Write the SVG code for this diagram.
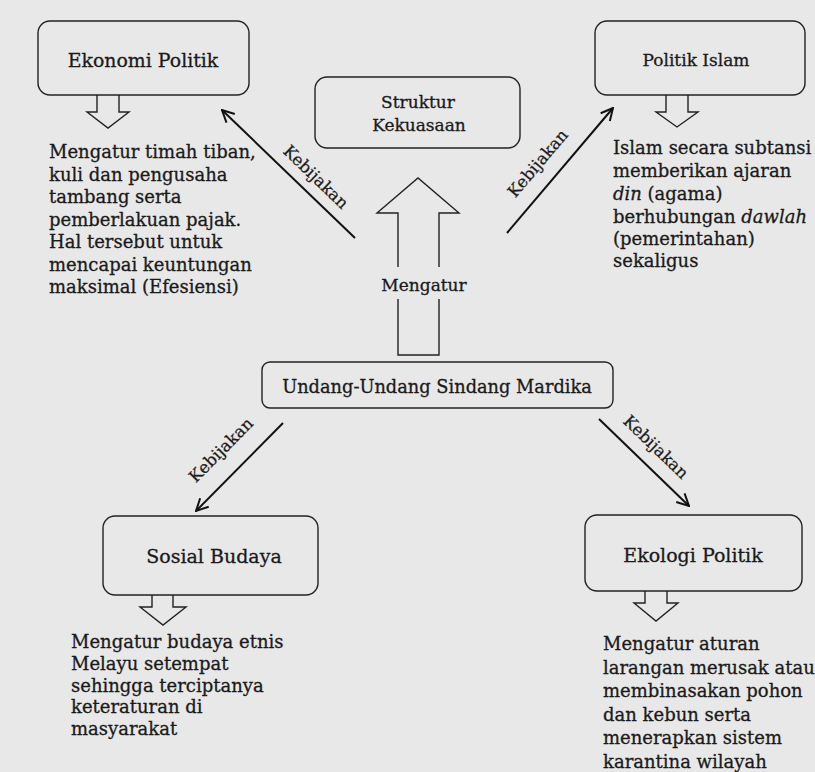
<svg xmlns="http://www.w3.org/2000/svg" width="815" height="772" viewBox="0 0 815 772">
<style>
.box{fill:none;stroke:#222;stroke-width:1.4}
.hol{fill:none;stroke:#222;stroke-width:1.4;stroke-linejoin:miter}
.t{font-family:"DejaVu Serif","Liberation Serif",serif;font-size:18px;fill:#1a1a1a;stroke:#1a1a1a;stroke-width:0.3}
.ttl{font-family:"DejaVu Serif","Liberation Serif",serif;font-size:17px;fill:#1a1a1a;stroke:#1a1a1a;stroke-width:0.3;text-anchor:middle}
.lbl{font-family:"DejaVu Serif","Liberation Serif",serif;font-size:16.5px;fill:#1a1a1a;stroke:#1a1a1a;stroke-width:0.25;text-anchor:middle}
.con{stroke:#111;stroke-width:2;fill:none;marker-end:url(#ah)}
</style>
<defs>
<marker id="ah" viewBox="0 0 14 14" refX="13" refY="7" markerWidth="7" markerHeight="7" orient="auto" markerUnits="strokeWidth">
<path d="M1,1 L13,7 L1,13" fill="none" stroke="#111" stroke-width="2"/>
</marker>
</defs>
<rect x="0" y="0" width="815" height="772" fill="#e8e8e8"/>

<g id="ekonomi-politik">
<rect class="box" x="38" y="21" width="211" height="74" rx="12"/>
<text class="ttl" x="143" y="67" style="font-size:18.9px">Ekonomi Politik</text>
<polyline class="hol" points="97,95 97,112 87,112 108,128 129,112 119,112 119,95"/>
<text class="t" x="49" y="158">Mengatur timah tiban,</text>
<text class="t" x="49" y="180.5">kuli dan pengusaha</text>
<text class="t" x="49" y="203">tambang serta</text>
<text class="t" x="49" y="225.5">pemberlakuan pajak.</text>
<text class="t" x="49" y="248">Hal tersebut untuk</text>
<text class="t" x="49" y="270.5">mencapai keuntungan</text>
<text class="t" x="49" y="293">maksimal (Efesiensi)</text>
</g>

<g id="struktur-kekuasaan">
<rect class="box" x="315" y="77" width="205" height="71" rx="12"/>
<text class="ttl" x="418" y="108">Struktur</text>
<text class="ttl" x="419" y="131">Kekuasaan</text>
</g>

<g id="politik-islam">
<rect class="box" x="595" y="21" width="210" height="74" rx="12"/>
<text class="ttl" x="696" y="66">Politik Islam</text>
<polyline class="hol" points="666,95 666,112 656,112 677,127 698,112 688,112 688,95"/>
<text class="t" x="613" y="154">Islam secara subtansi</text>
<text class="t" x="613" y="177">memberikan ajaran</text>
<text class="t" x="613" y="200"><tspan font-style="italic">din</tspan> (agama)</text>
<text class="t" x="613" y="223">berhubungan  <tspan font-style="italic">dawlah</tspan></text>
<text class="t" x="613" y="245">(pemerintahan)</text>
<text class="t" x="613" y="267">sekaligus</text>
</g>

<g id="undang-undang">
<rect class="box" x="262" y="362" width="351" height="46" rx="8"/>
<text class="ttl" x="437" y="393" style="font-size:17.8px">Undang-Undang Sindang Mardika</text>
</g>

<g id="sosial-budaya">
<rect class="box" x="103" y="516" width="215" height="79" rx="12"/>
<text class="ttl" x="214" y="563" style="font-size:19px">Sosial Budaya</text>
<polyline class="hol" points="152,595 152,607 140,607 163,625 186,607 173,607 173,595"/>
<text class="t" x="71" y="648">Mengatur budaya etnis</text>
<text class="t" x="71" y="670">Melayu setempat</text>
<text class="t" x="71" y="691.5">sehingga terciptanya</text>
<text class="t" x="71" y="713">keteraturan di</text>
<text class="t" x="71" y="735">masyarakat</text>
</g>

<g id="ekologi-politik">
<rect class="box" x="585" y="515" width="217" height="76" rx="12"/>
<text class="ttl" x="693" y="562" style="font-size:19px">Ekologi Politik</text>
<polyline class="hol" points="645,591 645,603 634,603 656,621 678,603 667,603 667,591"/>
<text class="t" x="603" y="650">Mengatur aturan</text>
<text class="t" x="603" y="673.5">larangan merusak atau</text>
<text class="t" x="603" y="697">membinasakan pohon</text>
<text class="t" x="603" y="720.5">dan kebun serta</text>
<text class="t" x="603" y="744">menerapkan sistem</text>
<text class="t" x="603" y="767.5">karantina wilayah</text>
</g>

<g id="connectors">
<polygon class="hol" points="398,355 398,213 377,213 418,178 459,213 439,213 439,355"/>
<rect x="378" y="267" width="94" height="32" fill="#e8e8e8"/>
<text class="ttl" x="424" y="291">Mengatur</text>
<line class="con" x1="355" y1="238" x2="222" y2="110"/>
<text class="lbl" transform="translate(312,181) rotate(44)">Kebijakan</text>
<line class="con" x1="507" y1="233" x2="613" y2="108"/>
<text class="lbl" transform="translate(542,167) rotate(-49.7)">Kebijakan</text>
<line class="con" x1="283" y1="423" x2="196" y2="511"/>
<text class="lbl" transform="translate(225,454) rotate(-45.3)">Kebijakan</text>
<line class="con" x1="599" y1="419" x2="689" y2="506"/>
<text class="lbl" transform="translate(652,451) rotate(44)">Kebijakan</text>
</g>
</svg>
